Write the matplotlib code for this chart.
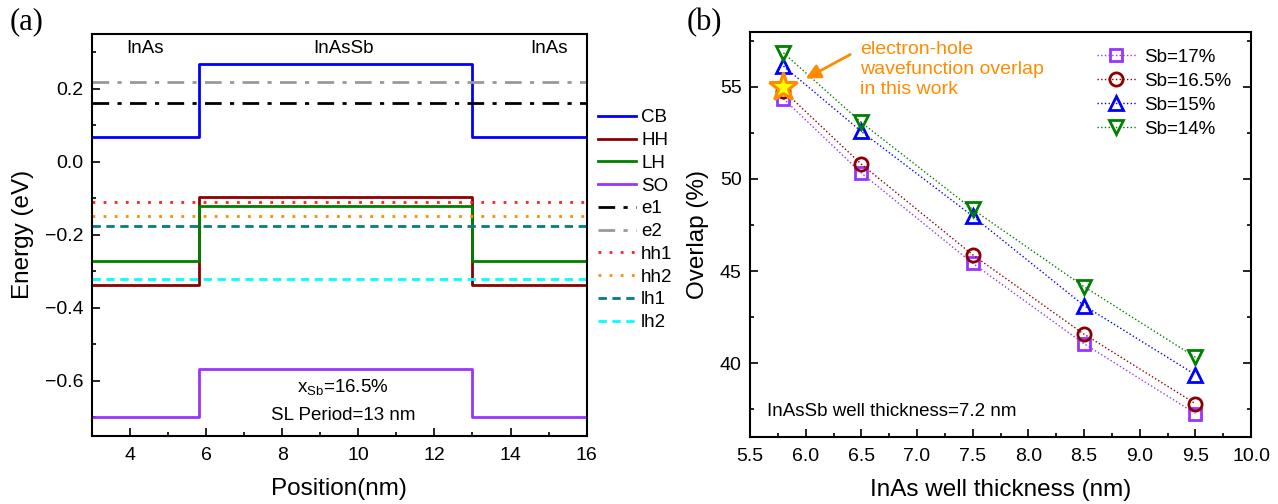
import matplotlib
matplotlib.use('Agg')
import matplotlib.pyplot as plt
from matplotlib.ticker import MultipleLocator, FuncFormatter

plt.rcParams['font.family'] = ['Liberation Sans', 'DejaVu Sans']
plt.rcParams['mathtext.fontset'] = 'custom'
plt.rcParams['mathtext.rm'] = 'Liberation Sans'
plt.rcParams['mathtext.it'] = 'Liberation Sans'

# ---- panel (a): band edges and levels ----
pos = [3.0, 5.8, 5.8, 13.0, 13.0, 16.0]
cb = [0.068, 0.068, 0.268, 0.268, 0.068, 0.068]
hh = [-0.338, -0.338, -0.097, -0.097, -0.338, -0.338]
lh = [-0.271, -0.271, -0.120, -0.120, -0.271, -0.271]
so = [-0.700, -0.700, -0.567, -0.567, -0.700, -0.700]
levels = {'e1': 0.160, 'e2': 0.219, 'hh1': -0.109, 'hh2': -0.148,
          'lh1': -0.175, 'lh2': -0.322}

# ---- panel (b): overlap vs InAs thickness ----
thick = [5.8, 6.5, 7.5, 8.5, 9.5]
sb17 = [54.36, 50.32, 45.42, 41.05, 37.26]
sb165 = [54.8, 50.80, 45.88, 41.57, 37.80]
sb15 = [56.13, 52.58, 47.98, 43.12, 39.37]
sb14 = [56.85, 53.07, 48.35, 44.15, 40.32]
star_x, star_y = 5.8, 55.0

FS = 13.5
TS = 14

fig = plt.figure(figsize=(12.78, 5.04), dpi=100)
ax1 = fig.add_axes([0.072, 0.1355, 0.387, 0.797])
ax2 = fig.add_axes([0.5869, 0.1335, 0.392, 0.8036])

ax1.plot(pos, cb, color='#0000FF', lw=2, label='CB')
ax1.plot(pos, hh, color='#8B0000', lw=2, label='HH')
ax1.plot(pos, lh, color='#008000', lw=2, label='LH')
ax1.plot(pos, so, color='#9933FF', lw=2, label='SO')
styles = {'e1': ('black', (0, (6, 3, 1.5, 3))), 'e2': ('#999999', (0, (6, 3, 1.5, 3))),
          'hh1': ('#FF2020', (0, (1, 3))), 'hh2': ('#FF8C00', (0, (1, 3))),
          'lh1': ('#008080', (0, (3, 2))), 'lh2': ('#00FFFF', (0, (3, 2)))}
for name, val in levels.items():
    c, ls = styles[name]
    ax1.plot([3, 16], [val, val], color=c, ls=ls, lw=2, label=name)

ax1.set_xlim(3, 16)
ax1.set_ylim(-0.75, 0.35)
ax1.xaxis.set_major_locator(MultipleLocator(2))
ax1.xaxis.set_minor_locator(MultipleLocator(1))
ax1.yaxis.set_major_locator(MultipleLocator(0.2))
ax1.yaxis.set_minor_locator(MultipleLocator(0.1))
ax1.tick_params(which='both', direction='in', labelsize=TS, width=1.2)
ax1.tick_params(which='major', length=6)
ax1.tick_params(which='minor', length=3)
ax1.tick_params(axis='x', pad=8)
ax1.tick_params(axis='y', pad=6)
ax1.yaxis.set_major_formatter(FuncFormatter(lambda v, p: f'{v:.1f}'.replace('-', '\u2212')))
for s in ax1.spines.values():
    s.set_linewidth(1.5)
ax1.set_xlabel('Position(nm)', fontsize=17.5, labelpad=10)
ax1.set_ylabel('Energy (eV)', fontsize=17.5, labelpad=8)

ax1.text(4.4, 0.31, 'InAs', ha='center', va='center', fontsize=FS)
ax1.text(9.6, 0.31, 'InAsSb', ha='center', va='center', fontsize=FS)
ax1.text(15.0, 0.31, 'InAs', ha='center', va='center', fontsize=FS)
ax1.text(9.6, -0.616, r'x$_{\mathrm{Sb}}$=16.5%', ha='center', va='center', fontsize=FS)
ax1.text(9.6, -0.694, 'SL Period=13 nm', ha='center', va='center', fontsize=FS)

ax1.legend(loc='upper left', bbox_to_anchor=(0.468, 0.783), bbox_transform=fig.transFigure,
           frameon=False, fontsize=FS, handlelength=2.0, handletextpad=0.3,
           labelspacing=0.30, borderaxespad=0, borderpad=0)

# panel (b)
mk = dict(ls=':', lw=1, ms=9.5, mew=2, mfc='none')
ax2.plot(thick, sb17, marker='s', color='#9933FF', label='Sb=17%', **dict(mk, ms=8.5))
ax2.plot(thick, sb165, marker='o', color='#8B0000', label='Sb=16.5%', **mk)
ax2.plot(thick, sb15, marker='^', color='#0000FF', label='Sb=15%', **mk)
ax2.plot(thick, sb14, marker='v', color='#008000', label='Sb=14%', **mk)
ax2.plot([star_x], [star_y], marker='*', ms=21, mfc='#FFFF00', mec='#FF8C00', mew=2.2, ls='none')

ax2.set_xlim(5.5, 10.0)
ax2.set_ylim(36, 58)
ax2.xaxis.set_major_locator(MultipleLocator(0.5))
ax2.xaxis.set_minor_locator(MultipleLocator(0.25))
ax2.yaxis.set_major_locator(MultipleLocator(5))
ax2.yaxis.set_minor_locator(MultipleLocator(2.5))
ax2.tick_params(which='both', direction='in', labelsize=TS, width=1.2, right=True)
ax2.tick_params(which='major', length=6)
ax2.tick_params(which='minor', length=3)
ax2.tick_params(axis='x', pad=8)
ax2.tick_params(axis='y', pad=6)
for s in ax2.spines.values():
    s.set_linewidth(1.5)
ax2.set_xlabel('InAs well thickness (nm)', fontsize=17.5, labelpad=10)
ax2.set_ylabel('Overlap (%)', fontsize=17.5, labelpad=8)

ax2.text(6.49, 55.95, 'electron-hole\nwavefunction overlap\nin this work', ha='left', va='center',
         color='#FF8C00', fontsize=14, linespacing=1.22)
ax2.annotate('', xy=(6.0, 55.45), xytext=(6.40, 56.76),
             arrowprops=dict(arrowstyle='-|>', color='#FF8C00', lw=2, mutation_scale=22,
                             shrinkA=0, shrinkB=0))
ax2.text(5.65, 37.36, 'InAsSb well thickness=7.2 nm', ha='left', va='center', fontsize=FS)
ax2.legend(loc='upper left', bbox_to_anchor=(0.858, 0.904), bbox_transform=fig.transFigure,
           frameon=False, fontsize=FS, handlelength=2.13, handletextpad=0.43,
           labelspacing=0.37, borderaxespad=0, borderpad=0)

fig.text(0.021, 0.956, '(a)', family=['Liberation Serif', 'DejaVu Serif'], fontsize=22,
         ha='center', va='center')
fig.text(0.551, 0.956, '(b)', family=['Liberation Serif', 'DejaVu Serif'], fontsize=22,
         ha='center', va='center')

fig.savefig('out.png', dpi=100)
